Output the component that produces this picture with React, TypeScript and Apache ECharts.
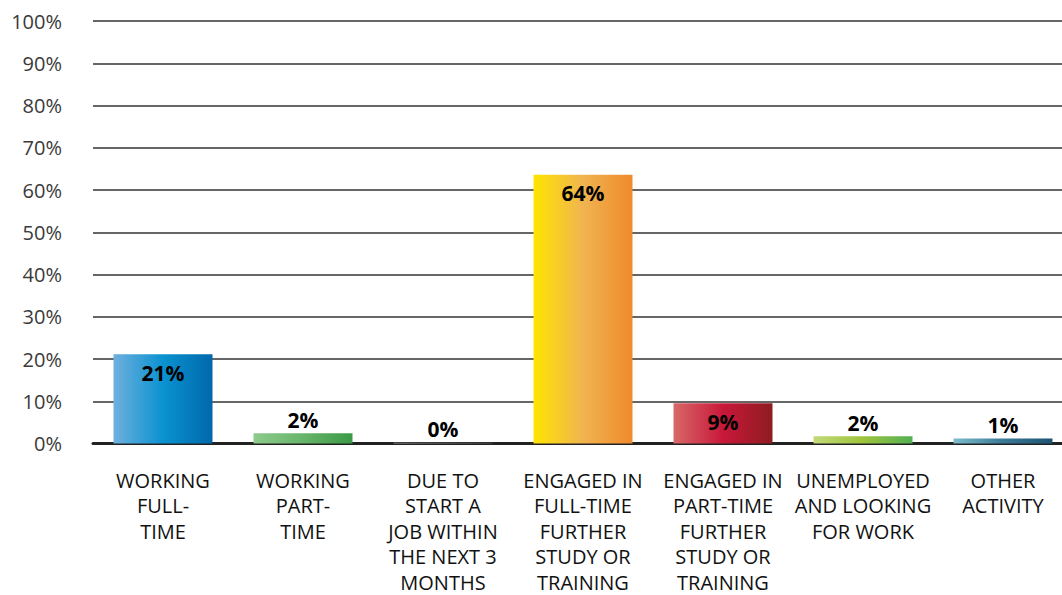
import React, { useEffect, useRef } from "react";
import * as echarts from "echarts";

const categories = [
  "WORKING\nFULL-\nTIME",
  "WORKING\nPART-\nTIME",
  "DUE TO\nSTART A\nJOB WITHIN\nTHE NEXT 3\nMONTHS",
  "ENGAGED IN\nFULL-TIME\nFURTHER\nSTUDY OR\nTRAINING",
  "ENGAGED IN\nPART-TIME\nFURTHER\nSTUDY OR\nTRAINING",
  "UNEMPLOYED\nAND LOOKING\nFOR WORK",
  "OTHER\nACTIVITY",
];
const values = [21.1, 2.4, 0.2, 63.6, 9.5, 1.7, 1.2];
const labels = ["21%", "2%", "0%", "64%", "9%", "2%", "1%"];
const gradients = [
  ["#6eb0de", "#0a92d0", "#0068aa"],
  ["#8ecb8c", "#68b46a", "#3a9a46"],
  ["#9a9a9a", "#777777", "#555555"],
  ["#ffe400", "#f0b450", "#f08a2c"],
  ["#d86868", "#c8183a", "#8e1c20"],
  ["#c2da78", "#9ec43c", "#52b054"],
  ["#7cbccc", "#3c7a98", "#1c5472"],
];
const insideLabel = [true, false, false, true, true, false, false];
const yTicks = [0, 10, 20, 30, 40, 50, 60, 70, 80, 90, 100];

export default function App() {
  const ref = useRef<HTMLDivElement>(null);
  useEffect(() => {
    const chart = echarts.init(ref.current!, null, { renderer: "svg" });
    chart.setOption({
      animation: false,
      backgroundColor: "#ffffff",
      grid: { left: 93, right: 0, top: 21, bottom: 150 },
      xAxis: {
        type: "category",
        data: categories,
        axisTick: { show: false },
        axisLine: { show: true, lineStyle: { color: "#222", width: 3 } },
        axisLabel: {
          interval: 0,
          margin: 24,
          fontFamily: "Open Sans",
          fontSize: 20,
          lineHeight: 25.5,
          color: "#111",
        },
      },
      yAxis: {
        type: "value",
        min: yTicks[0],
        max: yTicks[yTicks.length - 1],
        interval: 10,
        axisLine: { show: false },
        axisTick: { show: false },
        splitLine: { lineStyle: { color: "#333", width: 1.5 } },
        axisLabel: {
          margin: 31,
          fontFamily: "Open Sans",
          fontSize: 20,
          color: "#3a3a3a",
          formatter: (v: number) => v + "%",
        },
      },
      series: [
        {
          type: "bar",
          barWidth: "70.7%",
          data: values.map((v, i) => ({
            value: v,
            itemStyle: {
              color: new echarts.graphic.LinearGradient(0, 0, 1, 0, [
                { offset: 0, color: gradients[i][0] },
                { offset: 0.5, color: gradients[i][1] },
                { offset: 1, color: gradients[i][2] },
              ]),
            },
            label: {
              show: true,
              position: insideLabel[i] ? "insideTop" : "top",
              distance: insideLabel[i] ? 8 : 3,
              formatter: labels[i],
              fontFamily: "Open Sans",
              fontWeight: "bold",
              fontSize: 21,
              color: "#000",
            },
          })),
        },
      ],
    });
    return () => chart.dispose();
  }, []);
  return (
    <div
      style={{
        position: "fixed",
        left: 0,
        top: 0,
        width: 1062,
        height: 595,
        overflow: "hidden",
        background: "#fff",
      }}
    >
      <div ref={ref} style={{ width: 1073, height: 595 }} />
    </div>
  );
}
